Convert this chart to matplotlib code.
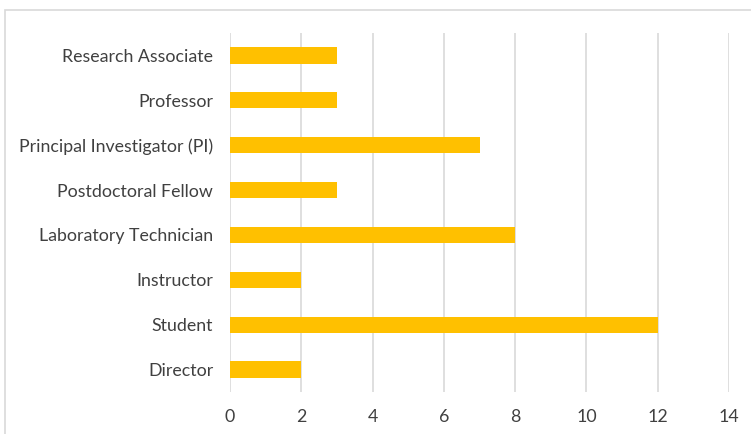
import matplotlib.pyplot as plt
from matplotlib.patches import Rectangle

roles = ['Director', 'Student', 'Instructor', 'Laboratory Technician',
         'Postdoctoral Fellow', 'Principal Investigator (PI)', 'Professor',
         'Research Associate']
counts = [2, 12, 2, 8, 3, 7, 3, 3]
xticks = [0, 2, 4, 6, 8, 10, 12, 14]

plt.rcParams['font.family'] = ['Lato', 'DejaVu Sans']

fig = plt.figure(figsize=(7.51, 4.34), dpi=100)
ax = fig.add_axes([230 / 751, 1 - 392 / 434, 499 / 751, 359 / 434])

# outer chart frame (cropped at right/bottom like the reference)
fig.patches.append(Rectangle((5 / 751, -0.1), 1.2, 1 - 10 / 434 + 0.1,
                             transform=fig.transFigure, fill=False,
                             edgecolor='#d9d9d9', linewidth=1.2))

ax.barh(range(len(roles)), counts, height=0.36, color='#ffc000', zorder=3)
ax.set_yticks(range(len(roles)))
ax.set_yticklabels(roles, fontsize=12.8, color='#404040')
ax.set_xticks(xticks)
ax.set_xticklabels([str(t) for t in xticks], fontsize=12.8, color='#404040')
ax.set_xlim(0, 14)
ax.set_ylim(-0.5, len(roles) - 0.5)
ax.grid(axis='x', color='#d9d9d9', linewidth=1.2, zorder=0)
for s in ax.spines.values():
    s.set_visible(False)
ax.tick_params(length=0)
ax.tick_params(axis='y', pad=12)
ax.tick_params(axis='x', pad=12)

fig.savefig('out.png', dpi=100)
